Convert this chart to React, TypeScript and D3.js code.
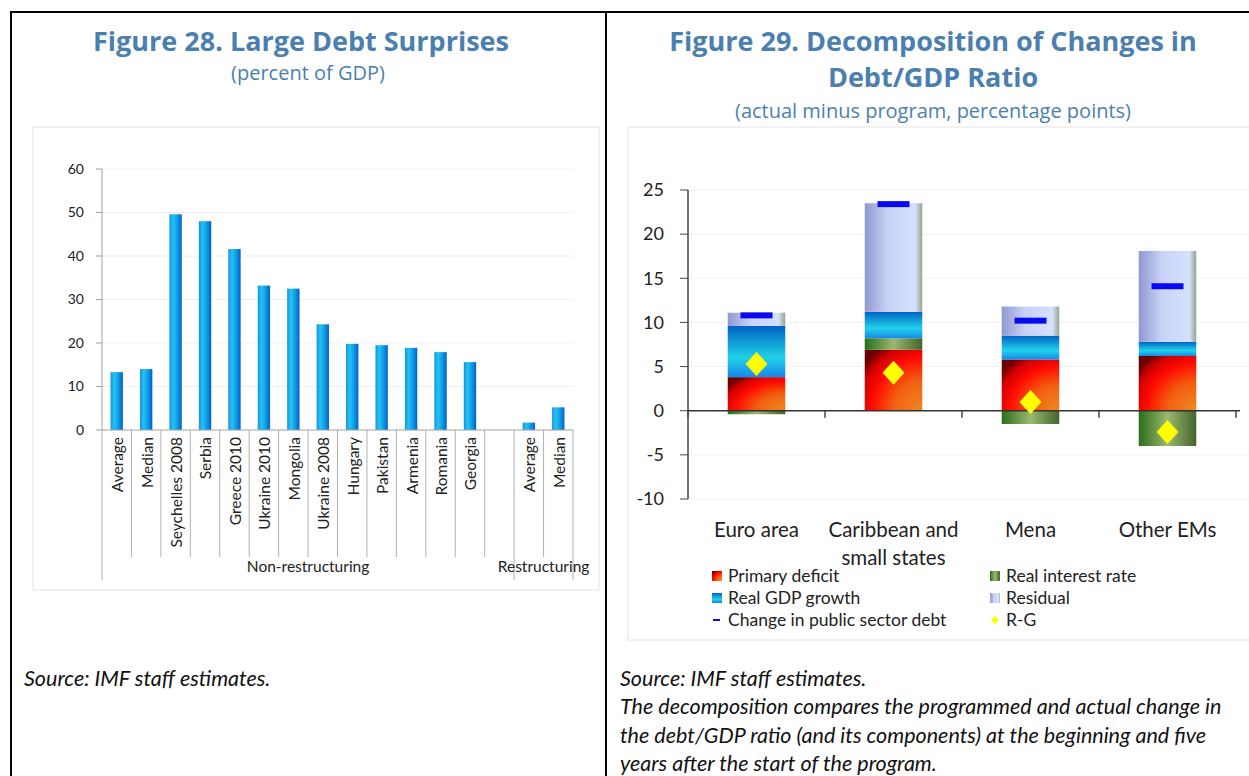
import React from "react";
import * as d3 from "d3";

// ---------- Figure 28 data ----------
const categories1 = [
  "Average", "Median", "Seychelles 2008", "Serbia", "Greece 2010", "Ukraine 2010",
  "Mongolia", "Ukraine 2008", "Hungary", "Pakistan", "Armenia", "Romania", "Georgia",
  "", "Average", "Median",
];
const surprises = [13.3, 14.0, 49.6, 48.0, 41.6, 33.2, 32.5, 24.3, 19.8, 19.5, 18.9, 17.9, 15.6, null, 1.7, 5.2];
const groups1 = [
  { label: "Non-restructuring", start: 0, end: 14 },
  { label: "Restructuring", start: 14, end: 16 },
];
const ticks1 = [0, 10, 20, 30, 40, 50, 60];

// ---------- Figure 29 data ----------
const regions = ["Euro area", "Caribbean and|small states", "Mena", "Other EMs"];
const primaryDeficit = [3.8, 6.9, 5.8, 6.2];
const realInterestRate = [-0.4, 1.3, -1.5, -4.0];
const realGdpGrowth = [5.8, 3.0, 2.7, 1.6];
const residual = [1.5, 12.3, 3.3, 10.3];
const changeDebt = [10.8, 23.4, 10.2, 14.1];
const rMinusG = [5.3, 4.3, 1.0, -2.4];
const ticks2 = [-10, -5, 0, 5, 10, 15, 20, 25];
const seriesKeys = ["pd", "rir", "gdp", "res"];
const seriesNames: Record<string, string> = {
  pd: "Primary deficit",
  rir: "Real interest rate",
  gdp: "Real GDP growth",
  res: "Residual",
};

const TITLE = "#4a7fb0";
const FONT = "Lato, 'Open Sans', sans-serif";
const TFONT = "'Open Sans', sans-serif";

export default function App() {
  // ---- chart 1 scales ----
  const x1 = d3.scaleBand<number>().domain(d3.range(categories1.length)).range([102, 573]).padding(0);
  const y1 = d3.scaleLinear().domain([0, 60]).range([430, 169]);
  const bw1 = x1.bandwidth() * 0.42;

  // ---- chart 2 scales ----
  const x2 = d3.scaleBand<number>().domain(d3.range(regions.length)).range([688, 1236]).padding(0);
  const y2 = d3.scaleLinear().domain([-10, 25]).range([499, 190]);
  const bw2 = x2.bandwidth() * 0.42;

  const rows = regions.map((r, i) => ({
    i,
    pd: primaryDeficit[i],
    rir: realInterestRate[i],
    gdp: realGdpGrowth[i],
    res: residual[i],
  }));
  const stacked = d3.stack<any>().keys(seriesKeys).offset(d3.stackOffsetDiverging)(rows);
  const fills: Record<string, string> = {
    pd: "url(#gPd)",
    rir: "url(#gRir)",
    gdp: "url(#gGdp)",
    res: "url(#gRes)",
  };

  const legendItems = [
    { key: "pd", col: 0, row: 0 },
    { key: "rir", col: 1, row: 0 },
    { key: "gdp", col: 0, row: 1 },
    { key: "res", col: 1, row: 1 },
    { key: "chg", col: 0, row: 2 },
    { key: "rg", col: 1, row: 2 },
  ];
  const legendNames: Record<string, string> = {
    ...seriesNames,
    chg: "Change in public sector debt",
    rg: "R-G",
  };
  const legX = [712, 990];
  const legY = [576, 598, 620];

  return (
    <svg
      width={1249}
      height={776}
      style={{ position: "absolute", left: 0, top: 0, background: "#fff" }}
      fontFamily={FONT}
    >
      <defs>
        <linearGradient id="gBar1" x1="0" y1="0" x2="1" y2="0">
          <stop offset="0%" stopColor="#1890e0" />
          <stop offset="30%" stopColor="#22c4f0" />
          <stop offset="65%" stopColor="#0f9ae6" />
          <stop offset="100%" stopColor="#0060c8" />
        </linearGradient>
        <radialGradient id="gPd" cx="1" cy="1" r="1.25" gradientUnits="objectBoundingBox">
          <stop offset="0%" stopColor="#ee8a22" />
          <stop offset="40%" stopColor="#f26010" />
          <stop offset="70%" stopColor="#ff0a00" />
          <stop offset="88%" stopColor="#d00000" />
          <stop offset="100%" stopColor="#6a0000" />
        </radialGradient>
        <linearGradient id="gGdp" x1="0" y1="0" x2="0" y2="1">
          <stop offset="0%" stopColor="#0062c4" />
          <stop offset="62%" stopColor="#22d2e8" />
          <stop offset="100%" stopColor="#1686ea" />
        </linearGradient>
        <linearGradient id="gRes" x1="0" y1="0" x2="1" y2="0">
          <stop offset="0%" stopColor="#9098d0" />
          <stop offset="40%" stopColor="#c8d2f6" />
          <stop offset="88%" stopColor="#d6e0ff" />
          <stop offset="100%" stopColor="#93a58a" />
        </linearGradient>
        <linearGradient id="gRir" x1="0" y1="0" x2="1" y2="0">
          <stop offset="0%" stopColor="#2a6e1a" />
          <stop offset="50%" stopColor="#9ab870" />
          <stop offset="100%" stopColor="#44642a" />
        </linearGradient>
      </defs>

      {/* frame */}
      <line x1={10} x2={1249} y1={12} y2={12} stroke="#000" strokeWidth={2} />
      <line x1={11} x2={11} y1={12} y2={776} stroke="#000" strokeWidth={2} />
      <line x1={606} x2={606} y1={12} y2={776} stroke="#000" strokeWidth={2} />

      {/* ===== Figure 28 ===== */}
      <text x={301} y={51} textAnchor="middle" fill={TITLE} fontSize={27} fontWeight="bold" fontFamily={TFONT}>
        Figure 28. Large Debt Surprises
      </text>
      <text x={308} y={80} textAnchor="middle" fill={TITLE} fontSize={20} fontFamily={TFONT}>
        (percent of GDP)
      </text>
      <rect x={33} y={127} width={566} height={463} fill="none" stroke="#e3e3e3" />

      {ticks1.map((t) => (
        <g key={"g1" + t}>
          {t !== 0 && <line x1={102} x2={573} y1={y1(t)} y2={y1(t)} stroke="#f0f0f0" />}
          <line x1={96} x2={102} y1={y1(t)} y2={y1(t)} stroke="#a0a0a0" />
          <text x={84} y={y1(t)} dy="0.35em" textAnchor="end" fontSize={14} fill="#222">
            {t}
          </text>
        </g>
      ))}
      <line x1={102} x2={102} y1={y1(60)} y2={430} stroke="#a0a0a0" />

      {surprises.map((v, i) =>
        v == null ? null : (
          <rect
            key={"b1" + i}
            x={(x1(i) as number) + (x1.bandwidth() - bw1) / 2}
            y={y1(v)}
            width={bw1}
            height={y1(0) - y1(v)}
            fill="url(#gBar1)"
          />
        )
      )}
      <line x1={102} x2={573} y1={430} y2={430} stroke="#a0a0a0" />
      {d3.range(categories1.length + 1).map((i) => {
        const xx = 102 + i * x1.bandwidth();
        const isGroupEdge = groups1.some((g) => g.start === i || g.end === i);
        return (
          <line key={"sep" + i} x1={xx} x2={xx} y1={430} y2={isGroupEdge ? 580 : 557} stroke="#b0b0b0" />
        );
      })}
      {categories1.map((c, i) => {
        const cx = (x1(i) as number) + x1.bandwidth() / 2 + 1;
        return (
          <text
            key={"l1" + i}
            transform={`translate(${cx},437) rotate(-90)`}
            textAnchor="end"
            dy="0.35em"
            fontSize={15.5}
            fill="#222"
          >
            {c}
          </text>
        );
      })}
      {groups1.map((g) => {
        const a = 102 + g.start * x1.bandwidth();
        const b = 102 + g.end * x1.bandwidth();
        return (
          <text key={g.label} x={(a + b) / 2} y={572} textAnchor="middle" fontSize={15.5} fill="#222">
            {g.label}
          </text>
        );
      })}

      {/* ===== Figure 29 ===== */}
      <text x={933} y={51} textAnchor="middle" fill={TITLE} fontSize={27} fontWeight="bold" fontFamily={TFONT}>
        Figure 29. Decomposition of Changes in
      </text>
      <text x={933} y={87} textAnchor="middle" fill={TITLE} fontSize={27} fontWeight="bold" fontFamily={TFONT}>
        Debt/GDP Ratio
      </text>
      <text x={933} y={118} textAnchor="middle" fill={TITLE} fontSize={20} fontFamily={TFONT}>
        (actual minus program, percentage points)
      </text>
      <rect x={628} y={127} width={640} height={513} fill="none" stroke="#e3e3e3" />

      {ticks2.map((t) => (
        <g key={"g2" + t}>
          {t !== 0 && <line x1={688} x2={1249} y1={y2(t)} y2={y2(t)} stroke="#f2f2f2" />}
          <line x1={680} x2={688} y1={y2(t)} y2={y2(t)} stroke="#444" />
          <text x={664} y={y2(t)} dy="0.35em" textAnchor="end" fontSize={18} fill="#222">
            {t}
          </text>
        </g>
      ))}

      {stacked.map((s) =>
        s.map((d, i) => {
          const lo = Math.min(d[0], d[1]);
          const hi = Math.max(d[0], d[1]);
          if (hi - lo <= 0) return null;
          return (
            <rect
              key={s.key + i}
              x={(x2(i) as number) + (x2.bandwidth() - bw2) / 2}
              y={y2(hi)}
              width={bw2}
              height={y2(lo) - y2(hi)}
              fill={fills[s.key]}
            />
          );
        })
      )}

      <line x1={688} x2={688} y1={y2(25)} y2={y2(-10)} stroke="#444" strokeWidth={1.5} />
      <line x1={688} x2={1240} y1={y2(0)} y2={y2(0)} stroke="#333" strokeWidth={1.5} />
      {d3.range(regions.length + 1).map((i) => {
        const xx = 688 + i * x2.bandwidth();
        return <line key={"t2" + i} x1={xx} x2={xx} y1={y2(0)} y2={y2(0) + 7} stroke="#444" strokeWidth={1.5} />;
      })}

      {changeDebt.map((v, i) => (
        <rect
          key={"chg" + i}
          x={(x2(i) as number) + x2.bandwidth() / 2 - 16}
          y={y2(v) - 3}
          width={32}
          height={6}
          fill="#0a0af0"
        />
      ))}
      {rMinusG.map((v, i) => {
        const cx = (x2(i) as number) + x2.bandwidth() / 2;
        const cy = y2(v);
        return (
          <path
            key={"rg" + i}
            d={`M${cx},${cy - 12} L${cx + 11},${cy} L${cx},${cy + 12} L${cx - 11},${cy} Z`}
            fill="#ffff00"
          />
        );
      })}

      {regions.map((r, i) => {
        const cx = (x2(i) as number) + x2.bandwidth() / 2;
        return r.split("|").map((ln, k) => (
          <text key={"rl" + i + k} x={cx} y={537 + k * 28} textAnchor="middle" fontSize={20.5} fill="#222">
            {ln}
          </text>
        ));
      })}

      {legendItems.map((it) => {
        const lx = legX[it.col];
        const ly = legY[it.row];
        let sw: React.ReactNode;
        if (it.key === "chg") {
          sw = <rect x={lx + 1} y={ly - 1} width={7} height={2} fill="#0a0af0" />;
        } else if (it.key === "rg") {
          sw = <path d={`M${lx + 5},${ly - 4} L${lx + 9},${ly} L${lx + 5},${ly + 4} L${lx + 1},${ly} Z`} fill="#ffff00" />;
        } else {
          sw = <rect x={lx} y={ly - 5} width={10} height={10} fill={fills[it.key]} />;
        }
        return (
          <g key={"leg" + it.key}>
            {sw}
            <text x={lx + 16} y={ly} dy="0.35em" fontSize={17.5} fill="#222">
              {legendNames[it.key]}
            </text>
          </g>
        );
      })}

      {/* footers */}
      <g fontStyle="italic" fontSize={21.5} fill="#111">
        <text x={24} y={686}>Source: IMF staff estimates.</text>
        <text x={620} y={686}>Source: IMF staff estimates.</text>
        <text x={620} y={714}>The decomposition compares the programmed and actual change in</text>
        <text x={620} y={743}>the debt/GDP ratio (and its components) at the beginning and five</text>
        <text x={620} y={771}>years after the start of the program.</text>
      </g>
    </svg>
  );
}
